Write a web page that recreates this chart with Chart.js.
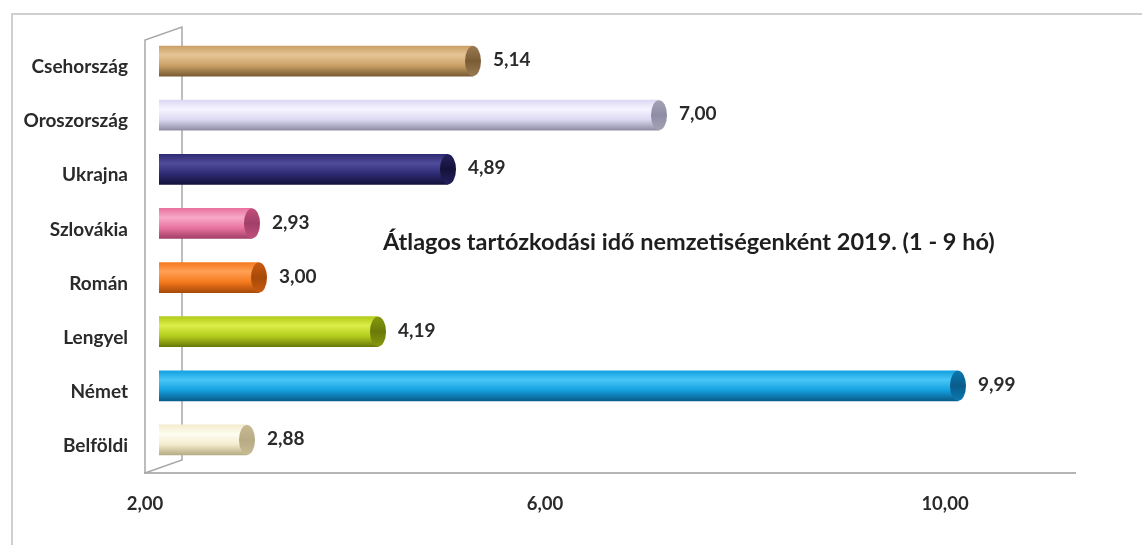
<!DOCTYPE html>
<html lang="hu">
<head>
<meta charset="UTF-8">
<title>Átlagos tartózkodási idő nemzetiségenként 2019.</title>
<script src="https://cdn.jsdelivr.net/npm/chart.js"></script>
<style>
  html, body { margin: 0; padding: 0; background: #fff; overflow: hidden; }
  .wrap { position: relative; width: 1142px; height: 545px; }
</style>
</head>
<body>
<div class="wrap"><canvas id="chart"></canvas></div>
<script>
// adatok
const categories = ['Csehország', 'Oroszország', 'Ukrajna', 'Szlovákia', 'Román', 'Lengyel', 'Német', 'Belföldi'];
const values = [5.14, 7.00, 4.89, 2.93, 3.00, 4.19, 9.99, 2.88];
const tickValues = [2, 6, 10];
const chartTitle = 'Átlagos tartózkodási idő nemzetiségenként 2019. (1 - 9 hó)';

// színek: [világos, alap, sötét, véglap]
const barColors = [
    ['#e6c596', '#cba066', '#7a5c34', '#9a7a52'],
    ['#f6f4ff', '#dcd8f2', '#8f8da6', '#a4a2b4'],
    ['#504c9a', '#2e2a74', '#14123a', '#24215c'],
    ['#f8a8c6', '#e8739f', '#a23f68', '#c0507c'],
    ['#ffa055', '#f67a1e', '#a84a08', '#c85a10'],
    ['#dcee48', '#b3cc1c', '#6a7a08', '#86980e'],
    ['#48c6f6', '#14a0e0', '#0a5c8a', '#0c78b0'],
    ['#fffdf2', '#f4ecce', '#b6ab84', '#c8bb92']
];

const DX = 14, DY = -6, CAP = 8;
const FONT = 'Lato, "Noto Sans", sans-serif';

function fmt(v) {
    return v.toFixed(2).replace('.', ',');
}

const depthPlugin = {
    id: 'depth',
    beforeDraw(chart) {
        const ctx = chart.ctx;
        // külső keret
        ctx.save();
        ctx.strokeStyle = '#cfcfcf';
        ctx.lineWidth = 2;
        ctx.beginPath();
        ctx.moveTo(12, 560);
        ctx.lineTo(12, 14);
        ctx.lineTo(1150, 14);
        ctx.stroke();
        ctx.restore();
    },
    beforeDatasetsDraw(chart) {
        const ctx = chart.ctx;
        const a = chart.chartArea;
        const bx = a.left + 37, by = -13;
        ctx.save();
        ctx.strokeStyle = '#a8a8a8';
        ctx.lineWidth = 1.5;
        ctx.beginPath();
        ctx.moveTo(a.left, a.bottom);
        ctx.lineTo(a.left, a.top);
        ctx.lineTo(bx, a.top + by);
        ctx.lineTo(bx, a.bottom + by);
        ctx.lineTo(a.left, a.bottom);
        ctx.stroke();
        ctx.restore();
        // a hengerek kissé hátrébb vannak
        ctx.save();
        ctx.translate(DX, DY);
    },
    afterDatasetsDraw(chart) {
        const ctx = chart.ctx;
        const meta = chart.getDatasetMeta(0);
        meta.data.forEach((bar, i) => {
            const h = bar.height / 2;
            const g = ctx.createLinearGradient(0, bar.y - h, 0, bar.y + h);
            g.addColorStop(0, barColors[i][3]);
            g.addColorStop(0.5, barColors[i][2]);
            g.addColorStop(1, barColors[i][3]);
            ctx.beginPath();
            ctx.ellipse(bar.x, bar.y, CAP, h, 0, 0, Math.PI * 2);
            ctx.fillStyle = g;
            ctx.fill();
        });
        // értékcímkék
        ctx.fillStyle = '#2a2a2a';
        ctx.font = 'bold 19px ' + FONT;
        ctx.textAlign = 'left';
        ctx.textBaseline = 'middle';
        meta.data.forEach((bar, i) => {
            ctx.fillText(fmt(values[i]), bar.x + CAP + 12, bar.y - 1);
        });
        ctx.restore();

        // cím a diagram belsejében
        const a = chart.chartArea;
        ctx.save();
        ctx.fillStyle = '#1e1e1e';
        ctx.font = 'bold 23.5px ' + FONT;
        ctx.textAlign = 'left';
        ctx.textBaseline = 'middle';
        ctx.fillText(chartTitle, a.left + 238, 242);
        ctx.restore();
    }
};

const ctx = document.getElementById('chart').getContext('2d');
new Chart(ctx, {
    type: 'bar',
    data: {
        labels: categories,
        datasets: [{
            data: values,
            barThickness: 30,
            borderSkipped: false,
            borderRadius: { topLeft: 15, bottomLeft: 15, topRight: 0, bottomRight: 0 },
            backgroundColor: (c) => {
                const col = barColors[c.dataIndex] || barColors[0];
                const chart = c.chart;
                if (!chart.chartArea || !chart.scales.y) return col[1];
                const y = chart.scales.y.getPixelForValue(c.dataIndex);
                const g = chart.ctx.createLinearGradient(0, y - 15, 0, y + 15);
                g.addColorStop(0, col[1]);
                g.addColorStop(0.3, col[0]);
                g.addColorStop(0.65, col[1]);
                g.addColorStop(1, col[2]);
                return g;
            }
        }]
    },
    options: {
        indexAxis: 'y',
        responsive: true,
        maintainAspectRatio: false,
        animation: false,
        layout: { padding: { left: 0, top: 40, right: 67, bottom: 0 } },
        plugins: {
            legend: { display: false },
            tooltip: { enabled: false }
        },
        scales: {
            x: {
                min: 2,
                max: 11.3,
                afterBuildTicks: (axis) => {
                    axis.ticks = tickValues.map(v => ({ value: v }));
                },
                afterFit: (axis) => { axis.height = 72; },
                grid: { display: false, drawTicks: false },
                border: { display: true, color: '#b4b4b4', width: 2 },
                ticks: {
                    padding: 20,
                    color: '#2a2a2a',
                    font: { family: FONT, size: 18.5, weight: 'bold' },
                    callback: (v) => fmt(v)
                }
            },
            y: {
                afterFit: (axis) => { axis.width = 145; },
                grid: { display: false, drawTicks: false },
                border: { display: false },
                ticks: {
                    padding: 17,
                    color: '#2a2a2a',
                    font: { family: FONT, size: 19, weight: 'bold' }
                }
            }
        }
    },
    plugins: [depthPlugin]
});
</script>
</body>
</html>
